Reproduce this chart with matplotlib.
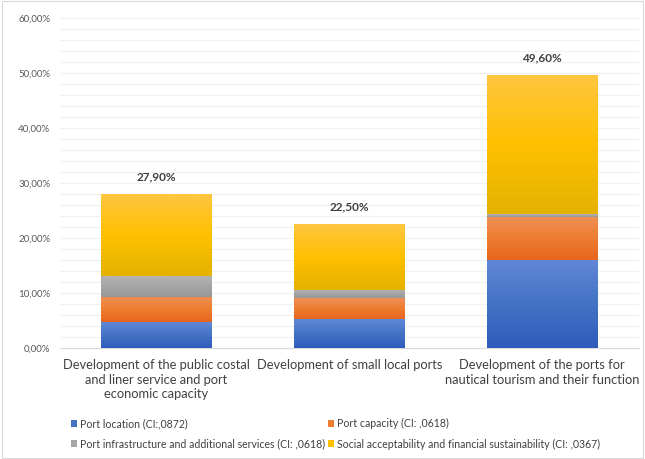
import numpy as np
import matplotlib.pyplot as plt
from matplotlib.colors import LinearSegmentedColormap
from matplotlib.patches import Rectangle

plt.rcParams['font.family'] = ['Lato', 'DejaVu Sans']

categories = ['Development of the public costal\nand liner service and port\neconomic capacity',
              'Development of small local ports',
              'Development of the ports for\nnautical tourism and their function']
port_location = [4.7, 5.2, 16.0]
port_capacity = [4.6, 3.8, 7.8]
port_infra = [3.7, 1.6, 0.5]
social = [14.9, 11.9, 25.3]
totals = [27.9, 22.5, 49.6]

series = [
    ('Port location (CI:,0872)', port_location, '#4472C4', '#6088d6', '#2f5cbc'),
    ('Port capacity (CI: ,0618)', port_capacity, '#ED7D31', '#f08f55', '#e8651c'),
    ('Port infrastructure and additional services (CI: ,0618)', port_infra, '#A5A5A5', '#b3b3b3', '#979797'),
    ('Social acceptability and financial sustainability (CI: ,0367)', social, '#FFC000', '#ffc640', '#e4b200'),
]

fig = plt.figure(figsize=(6.45, 4.59), dpi=100)
fig.patches.append(Rectangle((0.003, 0.003), 0.994, 0.994, transform=fig.transFigure,
                             fill=False, edgecolor='#d9d9d9', linewidth=0.8))
ax = fig.add_axes([0.093, 0.242, 0.897, 0.719])

x = np.arange(len(categories))
width = 0.575
bottom = np.zeros(len(categories))
handles = {}
for label, vals, c, top_c, bot_c in series:
    bars = ax.bar(x, vals, width, bottom=bottom, color=c, label=label, zorder=2, linewidth=0)
    handles[label] = bars
    cmap = LinearSegmentedColormap.from_list('g', [bot_c, c, top_c])
    grad = np.linspace(0, 1, 64).reshape(-1, 1)
    for b in bars:
        bx, by = b.get_x(), b.get_y()
        im = ax.imshow(grad, cmap=cmap, aspect='auto', origin='lower',
                       extent=[bx, bx + b.get_width(), by, by + b.get_height()], zorder=3)
        im.set_clip_path(b)
    bottom += np.array(vals)

for xi, t in zip(x, totals):
    ax.text(xi, t + 2.2, f'{t:.2f}%'.replace('.', ','), ha='center', va='bottom',
            fontsize=8.5, fontweight='bold', color='#404040')

ax.set_xlim(-0.5, 2.5)
ax.set_ylim(0, 60)
ax.set_yticks(np.arange(0, 61, 10))
ax.set_yticklabels([f'{v:.2f}%'.replace('.', ',') for v in np.arange(0, 61, 10)],
                   fontsize=7, color='#595959')
ax.set_yticks(np.arange(0, 61, 2), minor=True)
ax.grid(axis='y', which='both', color='#f0f0f0', linewidth=0.8, zorder=0)
ax.set_xticks(x)
ax.set_xticklabels(categories, fontsize=9.3, color='#404040', linespacing=1.25)
ax.tick_params(axis='both', which='both', length=0)
ax.tick_params(axis='y', pad=7)
ax.tick_params(axis='x', pad=8)
for s in ['top', 'right', 'left']:
    ax.spines[s].set_visible(False)
ax.spines['bottom'].set_color('#d9d9d9')

order = [series[0][0], series[2][0], series[1][0], series[3][0]]
fig.legend([handles[k] for k in order], order, loc='lower left', bbox_to_anchor=(0.095, 0.0),
           ncol=2, frameon=False, fontsize=7.6, handlelength=0.6, handleheight=0.6,
           handletextpad=0.3, columnspacing=0.2, labelspacing=0.9, labelcolor='#404040')

fig.savefig('out.png', dpi=100)
